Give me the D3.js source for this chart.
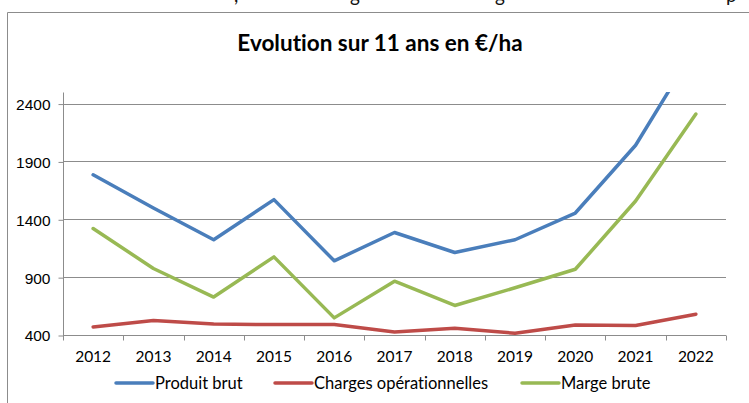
<!DOCTYPE html>
<html lang="fr">
  <head>
    <meta charset="UTF-8" />
    <title>Evolution sur 11 ans en €/ha</title>
    <style>
      body {
        margin: 0;
        background: #fff;
        font-family: Lato, "Open Sans", sans-serif;
        font-variant-ligatures: none;
      }
      svg {
        display: block;
      }
      .axis text {
        font-size: 15.5px;
        fill: #000;
      }
    </style>
  </head>
  <body>
    <script src="https://cdn.jsdelivr.net/npm/d3@7"></script>
    <script>
      // data
      var years = ["2012", "2013", "2014", "2015", "2016", "2017", "2018", "2019", "2020", "2021", "2022"];
      var produitBrut = [1785, 1498, 1223, 1570, 1041, 1286, 1113, 1223, 1454, 2040, 2890];
      var charges = [470, 525, 495, 490, 490, 425, 458, 415, 487, 482, 580];
      var margeBrute = [1320, 975, 728, 1075, 548, 865, 655, 808, 968, 1558, 2310];
      var yTicks = [400, 900, 1400, 1900, 2400];
      var seriesNames = ["Produit brut", "Charges opérationnelles", "Marge brute"];
      var seriesColors = ["#4a7ebb", "#be4b48", "#98b954"];

      var W = 749, H = 403;
      var plot = { left: 63, right: 726, top: 92, bottom: 335 };

      var svg = d3.select("body").append("svg").attr("width", W).attr("height", H);

      // descenders of the text line cut off above the chart
      var frag = [[234, ","], [350, "g"], [495, "g"], [726, "p"]];
      svg.selectAll("text.frag").data(frag).enter().append("text")
        .attr("class", "frag")
        .attr("x", function(d) { return d[0]; })
        .attr("y", 2)
        .style("font-size", "19px")
        .style("fill", "#111")
        .text(function(d) { return d[1]; });

      // chart area border
      svg.append("path")
        .attr("d", "M7.5," + H + "V12.5H" + (W + 2))
        .attr("fill", "none")
        .attr("stroke", "#8c8c8c")
        .attr("stroke-width", 1);

      svg.append("text")
        .attr("x", 380)
        .attr("y", 51)
        .attr("text-anchor", "middle")
        .style("font-size", "22.5px")
        .style("font-weight", "bold")
        .text("Evolution sur 11 ans en €/ha");

      var x = d3.scaleBand().domain(years).range([plot.left, plot.right]);
      var y = d3.scaleLinear().domain([400, 2500]).range([plot.bottom, plot.top]);

      // gridlines
      svg.append("g").selectAll("line").data(yTicks.slice(1)).enter().append("line")
        .attr("x1", plot.left).attr("x2", plot.right)
        .attr("y1", function(d) { return Math.round(y(d)) + 0.5; })
        .attr("y2", function(d) { return Math.round(y(d)) + 0.5; })
        .attr("stroke", "#8c8c8c");

      // y axis
      var yAxis = svg.append("g")
        .attr("class", "axis")
        .attr("transform", "translate(" + (plot.left + 0.5) + ",0.5)")
        .call(d3.axisLeft(y).tickValues(yTicks).tickSize(5).tickPadding(8).tickFormat(d3.format("d")));
      yAxis.select(".domain").attr("stroke", "#8c8c8c").attr("d", "M-0," + plot.top + "V" + plot.bottom);
      yAxis.selectAll(".tick line").attr("stroke", "#8c8c8c");
      yAxis.selectAll(".tick text").attr("dy", "0.35em");

      // x axis: ticks between categories
      var xg = svg.append("g")
        .attr("class", "axis")
        .attr("transform", "translate(0," + (Math.round(plot.bottom) + 0.5) + ")");
      xg.append("line")
        .attr("x1", plot.left).attr("x2", plot.right)
        .attr("stroke", "#8c8c8c");
      var bounds = years.map(function(d) { return x(d); }).concat([plot.right]);
      xg.selectAll("line.tk").data(bounds).enter().append("line")
        .attr("class", "tk")
        .attr("x1", function(d) { return Math.round(d) + 0.5; })
        .attr("x2", function(d) { return Math.round(d) + 0.5; })
        .attr("y1", 0).attr("y2", 5)
        .attr("stroke", "#8c8c8c");
      xg.selectAll("text").data(years).enter().append("text")
        .attr("x", function(d) { return x(d) + x.bandwidth() / 2; })
        .attr("y", 26)
        .attr("text-anchor", "middle")
        .text(function(d) { return d; });

      // lines, clipped to the plot area
      svg.append("clipPath").attr("id", "clip").append("rect")
        .attr("x", plot.left).attr("y", plot.top)
        .attr("width", plot.right - plot.left).attr("height", plot.bottom - plot.top);

      var line = d3.line()
        .x(function(d, i) { return x(years[i]) + x.bandwidth() / 2; })
        .y(function(d) { return y(d); });

      var series = [produitBrut, charges, margeBrute];
      svg.append("g").attr("clip-path", "url(#clip)")
        .selectAll("path").data(series).enter().append("path")
        .attr("d", line)
        .attr("fill", "none")
        .attr("stroke", function(d, i) { return seriesColors[i]; })
        .attr("stroke-width", 3.5)
        .attr("stroke-linejoin", "round")
        .attr("stroke-linecap", "round");

      // legend
      var legX = [116, 275, 522];
      var leg = svg.append("g").selectAll("g").data(seriesNames).enter().append("g")
        .attr("transform", function(d, i) { return "translate(" + legX[i] + ",383)"; });
      leg.append("line")
        .attr("x1", 0).attr("x2", 37)
        .attr("stroke", function(d, i) { return seriesColors[i]; })
        .attr("stroke-width", 3.5)
        .attr("stroke-linecap", "round");
      leg.append("text")
        .attr("x", 39)
        .attr("y", 6)
        .style("font-size", "16.5px")
        .text(function(d) { return d; });
    </script>
  </body>
</html>
